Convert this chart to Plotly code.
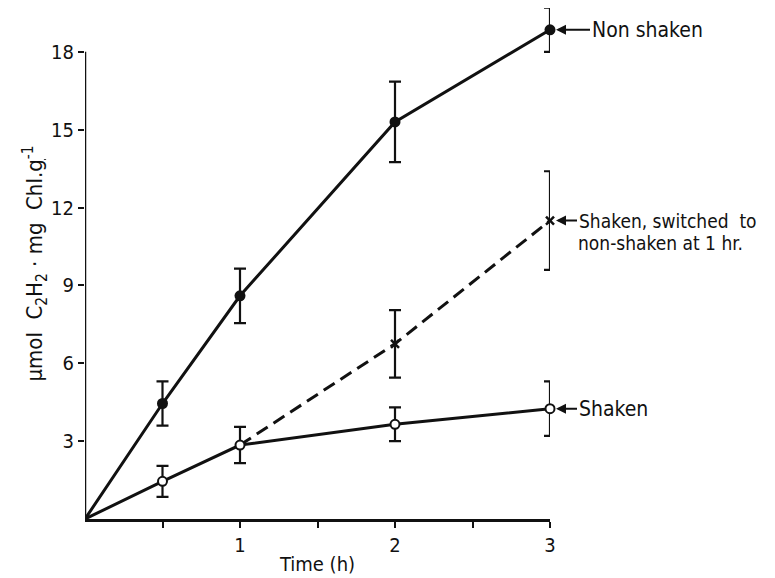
import plotly.graph_objects as go

# Data
time_h = [0, 0.5, 1, 2, 3]
non_shaken = [0, 4.45, 8.6, 15.3, 18.85]
non_shaken_err = [0, 0.85, 1.05, 1.55, 0.85]
shaken = [0, 1.45, 2.85, 3.65, 4.25]
shaken_err = [0, 0.6, 0.7, 0.65, 1.05]
switched_time = [1, 2, 3]
switched = [2.85, 6.75, 11.5]
switched_err = [0, 1.3, 1.9]

x_tickvals = [0.5, 1, 1.5, 2, 2.5, 3]
x_ticktext = ["", "1", "", "2", "", "3"]
y_tickvals = [3, 6, 9, 12, 15, 18]

FONT = "DejaVu Sans Condensed"
BLACK = "#111111"

fig = go.Figure()

# Lines
fig.add_trace(go.Scatter(x=switched_time, y=switched, mode="lines", cliponaxis=False,
                         line=dict(color=BLACK, width=3, dash="13px,7px"), showlegend=False))
fig.add_trace(go.Scatter(x=time_h, y=non_shaken, mode="lines", cliponaxis=False,
                         line=dict(color=BLACK, width=3), showlegend=False))
fig.add_trace(go.Scatter(x=time_h, y=shaken, mode="lines", cliponaxis=False,
                         line=dict(color=BLACK, width=3), showlegend=False))

# Markers with error bars
fig.add_trace(go.Scatter(x=switched_time[1:], y=switched[1:], mode="markers", cliponaxis=False,
                         marker=dict(symbol="x-thin", size=8, line=dict(color=BLACK, width=2.5)),
                         error_y=dict(type="data", array=switched_err[1:], color=BLACK,
                                      thickness=2.2, width=6),
                         showlegend=False))
fig.add_trace(go.Scatter(x=time_h[1:], y=non_shaken[1:], mode="markers", cliponaxis=False,
                         marker=dict(symbol="circle", size=11, color=BLACK),
                         error_y=dict(type="data", array=non_shaken_err[1:], color=BLACK,
                                      thickness=2.2, width=6),
                         showlegend=False))
fig.add_trace(go.Scatter(x=time_h[1:], y=shaken[1:], mode="markers", cliponaxis=False,
                         marker=dict(symbol="circle", size=9, color="white",
                                     line=dict(color=BLACK, width=2)),
                         error_y=dict(type="data", array=shaken_err[1:], color=BLACK,
                                      thickness=2.2, width=6),
                         showlegend=False))

# Y axis line only up to 18
fig.add_shape(type="line", xref="x", yref="y", x0=0, x1=0, y0=0, y1=18,
              line=dict(color=BLACK, width=2.5))

# Labels with arrows
arrow_kw = dict(xref="x", yref="y", showarrow=True, arrowhead=2, arrowsize=1,
                arrowwidth=2, arrowcolor=BLACK, ayref="pixel", axref="pixel", ay=0,
                xanchor="left")
fig.add_annotation(x=time_h[-1], y=non_shaken[-1], text="Non shaken", ax=40,
                   standoff=6, font=dict(family=FONT, size=21, color=BLACK), **arrow_kw)
fig.add_annotation(x=switched_time[-1], y=switched[-1], text="Shaken, switched  to", ax=27,
                   standoff=6, font=dict(family=FONT, size=19, color=BLACK), **arrow_kw)
fig.add_annotation(x=switched_time[-1], y=switched[-1], text="non-shaken at 1 hr.",
                   xref="x", yref="y", showarrow=False, xanchor="left", yanchor="middle",
                   xshift=26, yshift=-22, font=dict(family=FONT, size=19, color=BLACK))
fig.add_annotation(x=time_h[-1], y=shaken[-1], text="Shaken", ax=27,
                   standoff=6, font=dict(family=FONT, size=21, color=BLACK), **arrow_kw)

# The page body adds an 8 px offset; margins below compensate for it
fig.update_layout(
    width=767, height=570,
    margin=dict(l=77, r=225, t=0, b=59, autoexpand=False),
    plot_bgcolor="white", paper_bgcolor="white",
    font=dict(family=FONT, color=BLACK),
    xaxis=dict(range=[0, 3], tickvals=x_tickvals, ticktext=x_ticktext, automargin=False,
               ticks="outside", ticklen=6, tickwidth=2, tickcolor=BLACK,
               showline=True, linecolor=BLACK, linewidth=2.5, showgrid=False,
               zeroline=False, tickfont=dict(family=FONT, size=20),
               title=dict(text="Time (h)", font=dict(family=FONT, size=20), standoff=2)),
    yaxis=dict(range=[0, 19.69], tickvals=y_tickvals, automargin=False,
               ticks="outside", ticklen=6, tickwidth=2, tickcolor=BLACK,
               showline=False, showgrid=False, zeroline=False,
               tickfont=dict(family=FONT, size=20),
               title=dict(text="μmol  C<sub>2</sub>H<sub>2</sub> · mg  Chl.<u>g</u><sup>-1</sup>",
                          font=dict(family=FONT, size=22), standoff=2)),
)

fig.write_html("out.html")
